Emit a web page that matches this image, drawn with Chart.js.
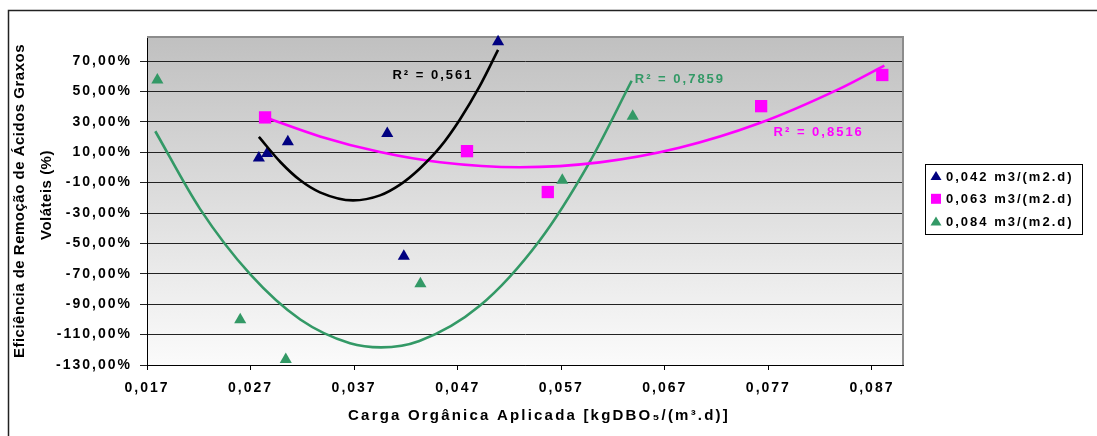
<!DOCTYPE html>
<html lang="pt">
<head>
<meta charset="UTF-8">
<title>Eficiência de remoção de AGV</title>
<script src="https://cdn.jsdelivr.net/npm/chart.js"></script>
<style>
  body { margin: 0; background: #fff; }
  canvas { display: block; }
</style>
</head>
<body>
<canvas id="grafico" width="1097" height="436"></canvas>
<script>
// valores: carga orgânica (kgDBO5/m3.d) x eficiência (fração)
const carga042 = [0.0278, 0.0286, 0.0306, 0.0402, 0.0418, 0.0509];
const efic042  = [0.062, 0.091, 0.168, 0.223, -0.584, 0.827];
const carga063 = [0.0284, 0.0479, 0.0557, 0.0763, 0.0880];
const efic063  = [0.329, 0.107, -0.162, 0.403, 0.608];
const carga084 = [0.0180, 0.0260, 0.0304, 0.0434, 0.0571, 0.0639];
const efic084  = [0.575, -1.003, -1.263, -0.766, -0.085, 0.337];

// linhas de tendência (polinomial 2ª ordem), pontos lidos sobre as curvas
const tendX042 = [0.0278, 0.0299, 0.0318, 0.0337, 0.0369, 0.0395, 0.0414, 0.0433, 0.0453, 0.0472, 0.0491, 0.0509];
const tendY042 = [0.201, 0.034, -0.085, -0.164, -0.217, -0.184, -0.115, -0.010, 0.133, 0.314, 0.531, 0.773];
const tendX063 = [0.0284, 0.0337, 0.0395, 0.0453, 0.0530, 0.0607, 0.0684, 0.0761, 0.0838, 0.0882];
const tendY063 = [0.330, 0.204, 0.101, 0.034, 0.001, 0.033, 0.129, 0.290, 0.515, 0.670];
const tendX084 = [0.0178, 0.0221, 0.0270, 0.0318, 0.0366, 0.0396, 0.0433, 0.0491, 0.0549, 0.0597, 0.0638];
const tendY084 = [0.238, -0.271, -0.706, -1.001, -1.157, -1.184, -1.142, -0.912, -0.482, 0.030, 0.570];

const series = ['0,042 m3/(m2.d)', '0,063 m3/(m2.d)', '0,084 m3/(m2.d)'];
const r2Texto = ['R² = 0,561', 'R² = 0,8516', 'R² = 0,7859'];
const r2X = [0.0407, 0.0775, 0.0641];
const r2Y = [0.603, 0.227, 0.581];

const xTicks = [0.017, 0.027, 0.037, 0.047, 0.057, 0.067, 0.077, 0.087];
const yTicks = [-1.3, -1.1, -0.9, -0.7, -0.5, -0.3, -0.1, 0.1, 0.3, 0.5, 0.7];

const azul = '#000080', rosa = '#ff00ff', verde = '#339966';
const cores = [azul, rosa, verde];
const formas = ['triangle', 'rect', 'triangle'];

const pares = (xs, ys) => xs.map((x, i) => ({ x: x, y: ys[i] }));
const FONTE = '"Liberation Sans", Arial, sans-serif';

function pontos(label, xs, ys, cor, forma) {
  return {
    label: label,
    data: pares(xs, ys),
    showLine: false,
    pointStyle: forma,
    pointRadius: forma === 'rect' ? 8.7 : 7,
    pointHoverRadius: forma === 'rect' ? 8.7 : 7,
    pointBackgroundColor: cor,
    pointBorderColor: cor,
    pointBorderWidth: 0,
    clip: false,
    order: 2
  };
}

function tendencia(xs, ys, cor) {
  return {
    label: 'tendência',
    data: pares(xs, ys),
    showLine: true,
    borderColor: cor,
    borderWidth: 2.6,
    pointRadius: 0,
    cubicInterpolationMode: 'monotone',
    clip: false,
    order: 1
  };
}

const extras = {
  id: 'extras',
  beforeDraw(chart) {
    const { ctx, chartArea: a } = chart;
    ctx.save();
    ctx.fillStyle = '#fff';
    ctx.fillRect(0, 0, chart.width, chart.height);
    const g = ctx.createLinearGradient(0, a.top, 0, a.bottom);
    g.addColorStop(0, '#c0c0c0');
    g.addColorStop(1, '#fbfbfb');
    ctx.fillStyle = g;
    ctx.fillRect(a.left, a.top, a.right - a.left, a.bottom - a.top);
    // moldura externa
    ctx.strokeStyle = '#222';
    ctx.lineWidth = 1.5;
    ctx.beginPath();
    ctx.moveTo(8.5, chart.height);
    ctx.lineTo(8.5, 10.5);
    ctx.lineTo(chart.width, 10.5);
    ctx.stroke();
    ctx.restore();
    ctx.letterSpacing = '2px';
  },
  beforeDatasetsDraw(chart) {
    const { ctx, chartArea: a } = chart;
    ctx.save();
    ctx.strokeStyle = '#8c8c8c';
    ctx.lineWidth = 2;
    ctx.beginPath();
    ctx.moveTo(a.left, a.top);
    ctx.lineTo(a.right, a.top);
    ctx.lineTo(a.right, a.bottom);
    ctx.stroke();
    ctx.restore();
  },
  afterDatasetsDraw(chart) {
    const { ctx } = chart;
    const xs = chart.scales.x, ys = chart.scales.y;
    const corR2 = ['#000', rosa, verde];
    ctx.save();
    ctx.font = 'bold 13px ' + FONTE;
    ctx.letterSpacing = '2px';
    ctx.textAlign = 'left';
    ctx.textBaseline = 'middle';
    r2Texto.forEach((t, i) => {
      ctx.fillStyle = corR2[i];
      ctx.fillText(t, xs.getPixelForValue(r2X[i]), ys.getPixelForValue(r2Y[i]));
    });
    ctx.restore();
  },
  afterDraw(chart) {
    const { ctx, chartArea: a } = chart;
    ctx.save();
    ctx.fillStyle = '#000';
    ctx.textAlign = 'center';
    ctx.textBaseline = 'middle';

    // título eixo x
    ctx.font = 'bold 15px ' + FONTE;
    ctx.letterSpacing = '2.2px';
    ctx.fillText('Carga Orgânica Aplicada [kgDBO₅/(m³.d)]', 539, 416);

    // título eixo y (duas linhas)
    ctx.save();
    ctx.translate(20, (a.top + a.bottom) / 2);
    ctx.rotate(-Math.PI / 2);
    ctx.font = 'bold 15px ' + FONTE;
    ctx.letterSpacing = '0.5px';
    ctx.fillText('Eficiência de Remoção de Ácidos Graxos', 0, 0);
    ctx.fillText('Voláteis (%)', 6, 27);
    ctx.restore();

    // legenda
    const lx = a.right + 22, ly = 164, lw = 157, lh = 70;
    ctx.fillStyle = '#fff';
    ctx.fillRect(lx, ly, lw, lh);
    ctx.strokeStyle = '#000';
    ctx.lineWidth = 1;
    ctx.strokeRect(lx + 0.5, ly + 0.5, lw, lh);
    ctx.font = 'bold 13px ' + FONTE;
    ctx.letterSpacing = '2px';
    ctx.textAlign = 'left';
    series.forEach((s, i) => {
      const cy = ly + 12 + i * 22.8;
      const cx = lx + 11;
      ctx.fillStyle = cores[i];
      ctx.beginPath();
      if (formas[i] === 'rect') {
        ctx.rect(cx - 5, cy - 5, 10, 10);
      } else {
        ctx.moveTo(cx, cy - 5);
        ctx.lineTo(cx + 5.5, cy + 4);
        ctx.lineTo(cx - 5.5, cy + 4);
        ctx.closePath();
      }
      ctx.fill();
      ctx.fillStyle = '#000';
      ctx.fillText(s, lx + 21, cy + 1);
    });
    ctx.restore();
  }
};

new Chart(document.getElementById('grafico'), {
  type: 'scatter',
  data: {
    datasets: [
      tendencia(tendX042, tendY042, '#000'),
      tendencia(tendX063, tendY063, rosa),
      tendencia(tendX084, tendY084, verde),
      pontos(series[0], carga042, efic042, azul, 'triangle'),
      pontos(series[1], carga063, efic063, rosa, 'rect'),
      pontos(series[2], carga084, efic084, verde, 'triangle')
    ]
  },
  options: {
    responsive: false,
    animation: false,
    events: [],
    layout: { padding: { left: 0, top: 37, right: 194, bottom: 0 } },
    scales: {
      x: {
        type: 'linear',
        min: 0.017,
        max: 0.09,
        afterFit: s => { s.height = 71; },
        afterBuildTicks: s => { s.ticks = xTicks.map(v => ({ value: v })); },
        grid: { drawOnChartArea: false, drawTicks: true, tickLength: 5, color: '#000', lineWidth: 1 },
        border: { color: '#000', width: 1 },
        ticks: {
          color: '#000',
          padding: 10,
          maxRotation: 0,
          font: { family: FONTE, size: 14, weight: 'bold' },
          callback: v => v.toFixed(3).replace('.', ',')
        }
      },
      y: {
        type: 'linear',
        min: -1.3,
        max: 0.858,
        afterFit: s => { s.width = 147; },
        afterBuildTicks: s => { s.ticks = yTicks.map(v => ({ value: v })); },
        grid: { drawTicks: true, tickLength: 7, color: '#222', lineWidth: 1 },
        border: { color: '#000', width: 1 },
        ticks: {
          color: '#000',
          padding: 8,
          font: { family: FONTE, size: 14, weight: 'bold' },
          callback: v => (v * 100).toFixed(2).replace('.', ',') + '%'
        }
      }
    },
    plugins: {
      legend: { display: false },
      tooltip: { enabled: false }
    }
  },
  plugins: [extras]
});
</script>
</body>
</html>
